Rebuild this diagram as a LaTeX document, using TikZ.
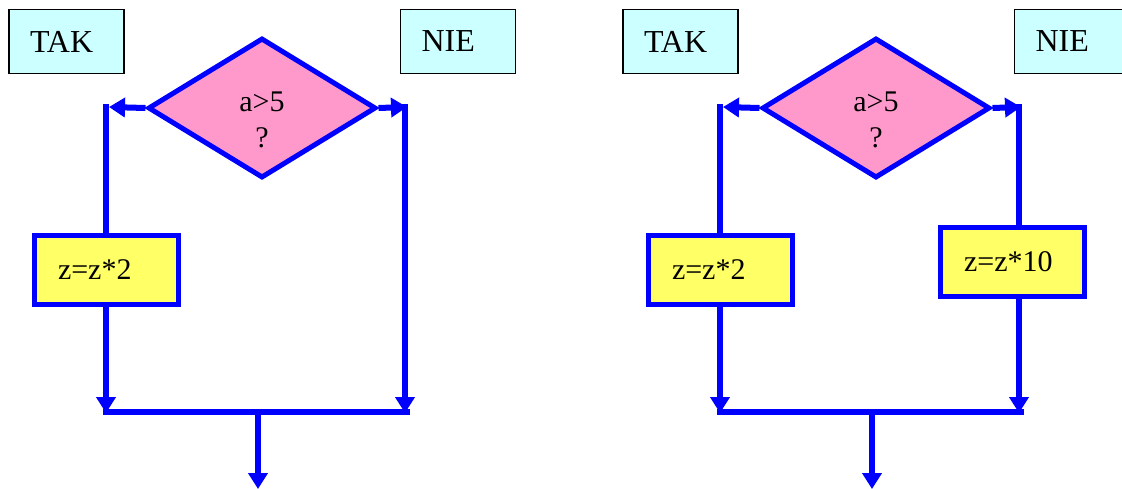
\documentclass[tikz,border=0pt]{standalone}
\usepackage{fontspec}
\setmainfont{Liberation Serif}
\usetikzlibrary{shapes.geometric,arrows.meta}
\definecolor{flowblue}{RGB}{0,0,255}
\definecolor{condpink}{RGB}{255,153,204}
\definecolor{actyellow}{RGB}{255,255,102}
\definecolor{labcyan}{RGB}{204,255,255}
\tikzset{
  flow/.style={draw=flowblue,line width=6pt},
  flowarrow/.style={flow,-{Triangle[width=19pt,length=16pt]}},
  cond/.style={diamond,draw=flowblue,fill=condpink,line width=5pt,aspect=1.65,
    minimum width=228pt,minimum height=140pt,inner sep=0pt},
  condtext/.style={align=center,font=\fontsize{30}{36}\selectfont,yshift=-12pt},
  act/.style={rectangle,draw=flowblue,fill=actyellow,line width=5pt,
    text width=97pt,inner xsep=23.5pt,inner ysep=0pt,minimum height=69pt,align=left,
    font=\fontsize{30}{34}\selectfont},
  lab/.style={rectangle,draw=black,fill=labcyan,line width=1.8pt,
    text width=73pt,inner xsep=21pt,inner ysep=0pt,minimum height=64pt,align=left,
    font=\fontsize{32}{36}\selectfont}
}
\begin{document}
\begin{tikzpicture}[x=1pt,y=-1pt]
\useasboundingbox (0,0) rectangle (1122,488);
% ---------- left panel ----------
\node[lab] (t1) at (66.5,41.5) {TAK};
\node[lab] (n1) at (458,41.5) {NIE};
\node[cond,label={[condtext]center:a>5\\?}] (d1) at (262,108) {};
\node[act] (p1) at (106.5,270) {z=z*2};
\coordinate (l1) at (109,107);
\coordinate (l1t) at (106,104);
\coordinate (r1) at (407,107);
\coordinate (r1t) at (405,104);
\coordinate (bl1) at (106,413);
\coordinate (br1) at (405,413);
\coordinate (hl1) at (103,412);
\coordinate (hr1) at (410,412);
\coordinate (m1) at (258,412);
\coordinate (o1) at (258,489);
\draw[flowarrow] (d1.west) -- (l1);
\draw[flow] (l1t) -- (l1t |- p1.north);
\draw[flowarrow] (l1t |- p1.south) -- (bl1);
\draw[flowarrow] (d1.east) -- (r1);
\draw[flowarrow] (r1t) -- (br1);
\draw[flow] (hl1) -- (hr1);
\draw[flowarrow] (m1) -- (o1);
% ---------- right panel ----------
\node[lab] (t2) at (680.5,41.5) {TAK};
\node[lab] (n2) at (1072,41.5) {NIE};
\node[cond,label={[condtext]center:a>5\\?}] (d2) at (876,108) {};
\node[act] (p2) at (720.5,270) {z=z*2};
\node[act] (p3) at (1012.5,262) {z=z*10};
\coordinate (l2) at (723,107);
\coordinate (l2t) at (720,104);
\coordinate (r2) at (1021,107);
\coordinate (r2t) at (1019,104);
\coordinate (bl2) at (720,413);
\coordinate (br2) at (1019,413);
\coordinate (hl2) at (717,412);
\coordinate (hr2) at (1024,412);
\coordinate (m2) at (872,412);
\coordinate (o2) at (872,489);
\draw[flowarrow] (d2.west) -- (l2);
\draw[flow] (l2t) -- (l2t |- p2.north);
\draw[flowarrow] (l2t |- p2.south) -- (bl2);
\draw[flowarrow] (d2.east) -- (r2);
\draw[flow] (r2t) -- (r2t |- p3.north);
\draw[flowarrow] (p3.south -| br2) -- (br2);
\draw[flow] (hl2) -- (hr2);
\draw[flowarrow] (m2) -- (o2);
\end{tikzpicture}
\end{document}
